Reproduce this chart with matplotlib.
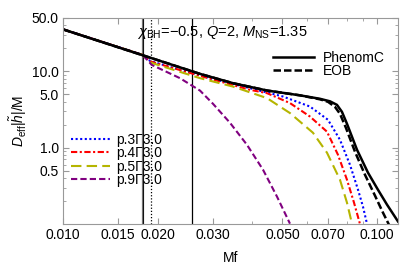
import matplotlib
matplotlib.use("Agg")
import matplotlib.pyplot as plt
from matplotlib.ticker import NullFormatter

plt.rcParams['font.family'] = ['Liberation Sans', 'DejaVu Sans']
plt.rcParams['mathtext.fontset'] = 'custom'
plt.rcParams['mathtext.rm'] = 'Liberation Sans'
plt.rcParams['mathtext.it'] = 'Liberation Sans:italic'

# PhenomC / EOB reference (black)
f_phenom = [0.0100, 0.02731, 0.03478, 0.04464, 0.05686, 0.06584, 0.07086, 0.07457,
            0.07736, 0.08025, 0.08638, 0.09362, 0.1007, 0.1076, 0.1167]
a_phenom = [35.5, 9.27, 7.00, 5.61, 4.85, 4.37, 4.05, 3.64, 2.95, 2.06, 0.94,
            0.471, 0.282, 0.180, 0.108]
f_eob = [0.0100, 0.02731, 0.03478, 0.04464, 0.05686, 0.06584, 0.06983, 0.07348,
         0.07624, 0.07966, 0.08511, 0.09157, 0.09854, 0.1045, 0.1092]
a_eob = [35.5, 9.27, 7.00, 5.61, 4.85, 4.30, 3.99, 3.43, 2.78, 1.82, 0.886,
         0.443, 0.236, 0.141, 0.098]

# tidal models
f_p3 = [0.0100, 0.01794, 0.01893, 0.02274, 0.02939, 0.03940, 0.05019, 0.06117,
        0.06983, 0.07624, 0.08203, 0.08702, 0.09026, 0.09294]
a_p3 = [35.5, 16.4, 13.7, 10.93, 8.14, 6.02, 4.68, 3.46, 2.32, 1.27, 0.599,
        0.282, 0.169, 0.101]
f_p4 = [0.0100, 0.01794, 0.01893, 0.02939, 0.03940, 0.04464, 0.05284, 0.06117,
        0.06932, 0.07512, 0.08025, 0.0845, 0.0883]
a_p4 = [35.5, 16.4, 13.5, 8.02, 5.73, 5.18, 3.84, 2.56, 1.62, 0.809, 0.381,
        0.191, 0.100]
f_p5 = [0.0100, 0.01794, 0.01893, 0.02731, 0.03478, 0.04464, 0.05284, 0.06254,
        0.06932, 0.07624, 0.08025, 0.08326]
a_p5 = [35.5, 16.4, 13.1, 8.14, 6.32, 4.46, 2.84, 1.57, 0.859, 0.381, 0.191, 0.101]
f_p9 = [0.0100, 0.01794, 0.01917, 0.02358, 0.02731, 0.03004, 0.03403, 0.03855,
        0.04335, 0.04803, 0.05284]
a_p9 = [35.5, 16.4, 12.15, 8.14, 5.6, 3.76, 2.12, 1.09, 0.515, 0.229, 0.101]

vlines_f = [0.01794, 0.01903, 0.02576]

xticks = [0.010, 0.015, 0.020, 0.030, 0.050, 0.070, 0.100]
xtick_labels = ["0.010", "0.015", "0.020", "0.030", "0.050", "0.070", "0.100"]
yticks = [0.5, 1.0, 5.0, 10.0, 50.0]
ytick_labels = ["0.5", "1.0", "5.0", "10.0", "50.0"]

fig = plt.figure(figsize=(4.02, 2.69), dpi=100)
ax = fig.add_axes([63 / 402, 1 - 224 / 269, 335 / 402, 206 / 269])

ax.axvline(vlines_f[0], color='0.45', lw=1.6, zorder=1)
ax.axvline(vlines_f[0], color='black', lw=0.6, zorder=1)
ax.axvline(vlines_f[1], color='black', lw=0.9, ls=(0, (1, 1.5)), zorder=1)
ax.axvline(vlines_f[2], color='black', lw=0.9, zorder=1)

l_p3, = ax.loglog(f_p3, a_p3, color='blue', lw=1.5, ls=(0, (1, 1.2)))
l_p4, = ax.loglog(f_p4, a_p4, color='red', lw=1.5, ls=(0, (3, 1.2, 1, 1.2)))
l_p5, = ax.loglog(f_p5, a_p5, color='#b5b500', lw=1.5, ls=(0, (5, 2.5)))
l_p9, = ax.loglog(f_p9, a_p9, color='purple', lw=1.5, ls=(0, (3, 1.5)))
l_ph, = ax.loglog(f_phenom, a_phenom, color='black', lw=1.8)
l_eob, = ax.loglog(f_eob, a_eob, color='black', lw=1.8, ls=(0, (3, 1.2)))

ax.set_xlim(0.01, 0.1167)
ax.set_ylim(0.1, 50)
ax.set_xticks(xticks, xtick_labels)
ax.set_yticks(yticks, ytick_labels)
ax.xaxis.set_minor_formatter(NullFormatter())
ax.yaxis.set_minor_formatter(NullFormatter())
ax.tick_params(which='both', direction='in', top=True, right=True,
               color='0.6', labelsize=10, pad=3)
ax.tick_params(which='major', length=4)
ax.tick_params(which='minor', length=2)
for sp in ax.spines.values():
    sp.set_color('0.6')

ax.set_xlabel("Mf", fontsize=10, labelpad=6)
ax.set_ylabel(r"$D_{\rm eff}|\tilde{h}|/{\rm M}$", fontsize=10, labelpad=2)

ax.text(0.222, 0.93, r"$\chi_{\rm BH}$=$-$0.5, $Q$=2, $M_{\rm NS}$=1.35",
        transform=ax.transAxes, fontsize=10.5, va='center', ha='left')

leg1 = ax.legend([l_ph, l_eob], ["PhenomC", "EOB"], loc='upper right',
                 bbox_to_anchor=(0.985, 0.88), frameon=False, fontsize=10,
                 handlelength=3, labelspacing=-0.1, handletextpad=0.6,
                 borderpad=0.1)
ax.add_artist(leg1)
ax.legend([l_p3, l_p4, l_p5, l_p9], ["p.3\u03933.0", "p.4\u03933.0", "p.5\u03933.0", "p.9\u03933.0"],
          loc='lower left', bbox_to_anchor=(0.0, 0.14), frameon=False, fontsize=10,
          handlelength=2.8, labelspacing=-0.05, handletextpad=0.4, borderpad=0.1)

fig.savefig("out.png", dpi=100)
